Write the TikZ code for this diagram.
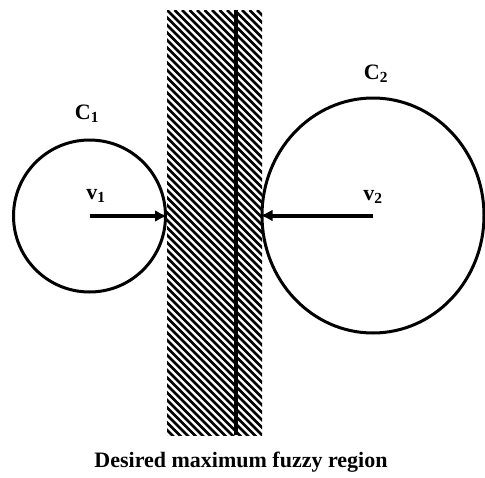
\documentclass[tikz,border=0pt]{standalone}
\usepackage{fontspec}
\setmainfont{Liberation Serif}
\usetikzlibrary{arrows.meta,shapes.geometric}
\begin{document}
\begin{tikzpicture}[x=1pt,y=-1pt]
		\tikzstyle{ring} = [draw=black, line width=3pt, inner sep=0pt];
		\tikzstyle{lbl} = [font=\fontsize{22}{26}\selectfont\bfseries, inner sep=0pt];
		\tikzstyle{radiusarrow} = [line width=4pt, -{Latex[length=12pt,width=12pt]}];
		\useasboundingbox (0,0) rectangle (485,477);
		% hatched strip
		\begin{scope}
			\clip (167,10) rectangle (262,435);
			\foreach \k in {-58,...,14} \draw[line width=2.6pt] (167+7.5*\k,10) -- ++(440,440);
		\end{scope}
		\coordinate (stript) at (236,10);
		\coordinate (stripb) at (236,435);
		\draw[line width=3.5pt] (stript) -- (stripb);
		% clusters
		\node (c1) [ring, circle, minimum size=152pt] at (89.5,216) {};
		\node (c2) [ring, ellipse, minimum width=222pt, minimum height=235pt] at (373,215.5) {};
		\draw[radiusarrow] (c1.center) -- (c1.east);
		\draw[radiusarrow] (c2.center) -- (c2.west);
		\node (c1lbl) [lbl] at (87,114) {C\textsubscript{1}};
		\node (v1lbl) [lbl] at (96,196) {v\textsubscript{1}};
		\node (c2lbl) [lbl] at (376,74) {C\textsubscript{2}};
		\node (v2lbl) [lbl] at (373,197) {v\textsubscript{2}};
		\node (caption) [lbl] at (241,462) {Desired maximum fuzzy region};
\end{tikzpicture}
\end{document}
